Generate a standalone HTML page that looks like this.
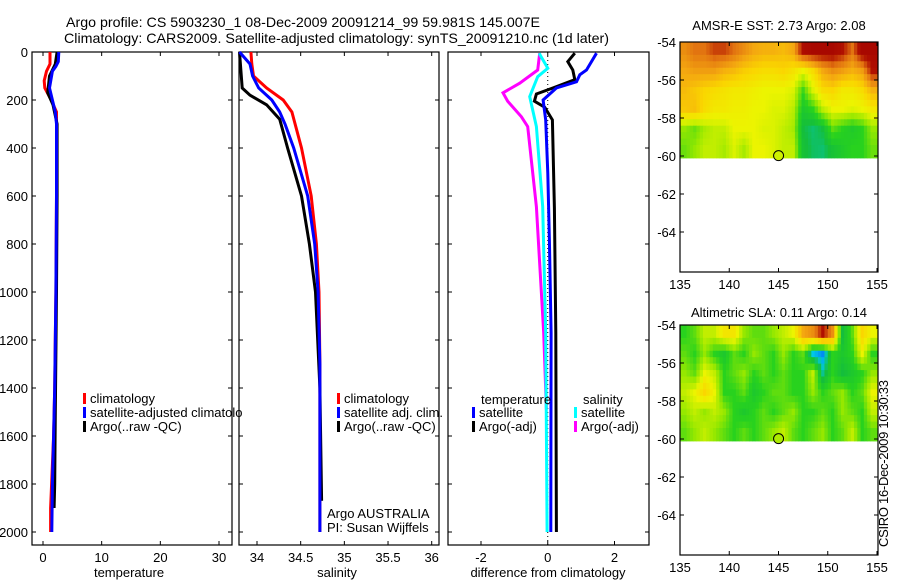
<!DOCTYPE html>
<html><head><meta charset="utf-8"><style>
html,body{margin:0;padding:0;background:#fff;}
svg{display:block;font-family:"Liberation Sans",sans-serif;}
</style></head><body>
<svg id="fig" width="900" height="580" viewBox="0 0 900 580">
<text x="66" y="27" font-size="14" textLength="474" lengthAdjust="spacingAndGlyphs">Argo profile: CS 5903230_1 08-Dec-2009 20091214_99 59.981S 145.007E</text>
<text x="64" y="43" font-size="14" textLength="545" lengthAdjust="spacingAndGlyphs">Climatology: CARS2009. Satellite-adjusted climatology: synTS_20091210.nc (1d later)</text>
<text x="779" y="30" font-size="13" text-anchor="middle">AMSR-E SST: 2.73 Argo: 2.08</text>
<text x="779" y="317" font-size="13" text-anchor="middle">Altimetric SLA: 0.11 Argo: 0.14</text>
<text transform="translate(888,547) rotate(-90)" font-size="13" textLength="167">CSIRO 16-Dec-2009 10:30:33</text>
<text x="129" y="577" font-size="13" text-anchor="middle">temperature</text>
<text x="337" y="577" font-size="13" text-anchor="middle">salinity</text>
<text x="548" y="577" font-size="13" text-anchor="middle">difference from climatology</text>
</svg>
<script>
// ---- data ----
const depthTicks = [0,200,400,600,800,1000,1200,1400,1600,1800,2000];
const tempTicks = [0,10,20,30];
const salTicks = [34,34.5,35,35.5,36];
const diffTicks = [-2,0,2];
const latTicks = [-54,-56,-58,-60,-62,-64];
const lonTicks = [135,140,145,150,155];

const climTempDepth = [0,50,80,120,150,200,250,300,600,1000,1400,1600,1900,2000];
const climTemp =      [1.2,1.2,0.6,0.2,0.3,1.4,2.3,2.3,2.3,2.2,2.0,1.8,1.3,1.3];
const satTempDepth = [0,40,60,80,150,200,250,300,600,1000,1400,1600,1800,2000];
const satTemp =      [2.7,2.6,2.2,1.6,1.1,1.6,2.1,2.3,2.3,2.2,2.0,1.8,1.6,1.5];
const argoTempDepth = [0,50,100,170,220,300,600,1000,1500,1800,1900];
const argoTemp =      [2.4,2.1,1.1,0.8,1.7,2.4,2.4,2.3,2.1,2.0,1.9];

const climSalDepth = [0,50,100,150,200,250,400,600,800,1000,1300,2000];
const climSal =      [33.93,33.94,33.96,34.11,34.30,34.40,34.51,34.62,34.68,34.71,34.72,34.72];
const satSalDepth = [0,50,100,150,200,250,300,400,600,800,1000,1300,2000];
const satSal =      [33.80,33.92,33.95,34.02,34.17,34.26,34.32,34.42,34.58,34.66,34.70,34.72,34.72];
const argoSalDepth = [0,150,180,220,280,400,600,800,1000,1400,1870];
const argoSal =      [33.80,33.83,33.92,34.11,34.26,34.35,34.51,34.60,34.67,34.72,34.74];

const satTdDepth = [5,75,95,124,150,200,283,505,785,1170,2000];
const satTd =      [1.46,1.16,0.96,0.86,0.26,-0.14,-0.06,0.0,0.05,0.1,0.09];
const argoTdDepth = [5,40,75,115,150,175,205,230,283,650,1170,2000];
const argoTd =      [0.81,0.6,0.75,0.81,0.15,-0.34,-0.4,-0.09,0.14,0.2,0.24,0.26];
const satSdDepth = [5,68,103,186,311,645,1170,2000];
const satSd =      [-0.26,0.0,-0.3,-0.54,-0.34,-0.15,-0.06,-0.02];
const argoSdDepth = [5,75,130,170,205,270,311,645,1170,1490];
const argoSd =      [-0.24,-0.3,-0.84,-1.34,-1.2,-0.79,-0.6,-0.34,-0.12,-0.04];

const sstGrid = [
[0.75,0.8,0.8,0.85,0.85,0.8,0.75,0.7,0.68,0.68,0.66,0.7,0.92,0.95,0.95,0.95,0.9,0.8,0.95,0.95],
[0.7,0.72,0.72,0.72,0.68,0.66,0.62,0.6,0.58,0.58,0.6,0.56,0.5,0.58,0.7,0.75,0.72,0.68,0.72,0.9],
[0.66,0.63,0.6,0.58,0.56,0.54,0.54,0.52,0.5,0.5,0.5,0.48,0.32,0.48,0.58,0.6,0.54,0.54,0.58,0.68],
[0.63,0.65,0.58,0.54,0.54,0.52,0.52,0.5,0.5,0.48,0.48,0.44,0.25,0.3,0.44,0.5,0.5,0.48,0.5,0.54],
[0.4,0.36,0.42,0.45,0.45,0.5,0.5,0.5,0.48,0.48,0.45,0.42,0.2,0.17,0.2,0.35,0.3,0.26,0.3,0.4],
[0.36,0.4,0.45,0.45,0.42,0.48,0.42,0.5,0.5,0.48,0.45,0.45,0.22,0.18,0.17,0.22,0.26,0.3,0.3,0.36]];
const slaGrid = [
[0.3,0.35,0.45,0.45,0.55,0.55,0.4,0.35,0.35,0.4,0.45,0.5,0.7,0.75,0.9,0.75,0.2,0.35,0.6,0.5],
[0.35,0.3,0.4,0.3,0.25,0.35,0.3,0.4,0.35,0.3,0.4,0.3,0.35,0.1,0.05,0.3,0.25,0.3,0.5,0.3],
[0.4,0.35,0.5,0.45,0.3,0.35,0.4,0.3,0.35,0.3,0.35,0.3,0.3,0.45,0.15,0.3,0.2,0.25,0.3,0.4],
[0.45,0.5,0.6,0.5,0.3,0.3,0.35,0.25,0.3,0.35,0.35,0.3,0.3,0.4,0.3,0.35,0.4,0.3,0.35,0.5],
[0.4,0.45,0.4,0.45,0.4,0.3,0.25,0.3,0.35,0.3,0.35,0.4,0.3,0.3,0.35,0.3,0.4,0.35,0.3,0.45],
[0.35,0.4,0.45,0.4,0.35,0.3,0.35,0.3,0.35,0.4,0.45,0.35,0.3,0.35,0.4,0.3,0.35,0.45,0.3,0.35]];
const floatLon = 145.007, floatLat = -59.981;

// ---- helpers ----
const svg = document.getElementById('fig');
const NS = 'http://www.w3.org/2000/svg';
function mk(tag, attrs){const e=document.createElementNS(NS,tag);for(const k in attrs)e.setAttribute(k,attrs[k]);svg.appendChild(e);return e;}
function lin(d0,d1,r0,r1){return v=>r0+(v-d0)*(r1-r0)/(d1-d0);}
const yDepth = lin(0,2000,52,532);

function axesBox(x0,x1,y0,y1,name){
  const r=mk('rect',{x:x0,y:y0,width:x1-x0,height:y1-y0,fill:'none',stroke:'#000','stroke-width':1.2});
  
  
}
function tick(x1,y1,x2,y2){const t=mk('line',{x1,y1,x2,y2,stroke:'#000','stroke-width':1});
  
  }
function label(x,y,txt,anchor){const t=mk('text',{x,y,'font-size':13,'text-anchor':anchor});t.textContent=txt;
  
  }

function profilePanel(x0,x1,xs,xt,showDepthLabels,nm){
  const y0=52,y1=545;
  axesBox(x0,x1,y0,y1,nm+'-axes');
  depthTicks.forEach(d=>{const y=yDepth(d);tick(x0,y,x0+4,y);tick(x1,y,x1-4,y);
    if(showDepthLabels) label(x0-4,y+5,String(d),'end');});
  xt.forEach(v=>{const x=xs(v);tick(x,y0,x,y0+4);tick(x,y1,x,y1-4);label(x,562,String(v),'middle');});
}
function series(xs,vals,depths,color,name,w){
  const pts=vals.map((v,i)=>xs(v).toFixed(1)+','+yDepth(depths[i]).toFixed(1)).join(' ');
  const p=mk('polyline',{points:pts,fill:'none',stroke:color,'stroke-width':w||3,'stroke-linejoin':'miter'});
  
  
}
function legend(x,y,color,txt,name){
  const r=mk('rect',{x:x,y:y-10,width:3,height:11,fill:color});
  
  
  const t=mk('text',{x:x+7,y:y,'font-size':13});t.textContent=txt;
  
  
}

// Panel 1: temperature
const xT = lin(0,30,43,219);
profilePanel(32,232,xT,tempTicks,true,'temperature-panel');
series(xT,climTemp,climTempDepth,'#ff0000','climatology-temp-line');
series(xT,argoTemp,argoTempDepth,'#000000','argo-temp-line');
series(xT,satTemp,satTempDepth,'#0000ff','satellite-temp-line');
legend(83,403,'#ff0000','climatology','legend-climatology');
legend(83,417,'#0000ff','satellite-adjusted climatolo','legend-satellite-adjusted');
legend(83,431,'#000000','Argo(..raw -QC)','legend-argo');

// Panel 2: salinity
const xS = lin(34,36,257,431.7);
profilePanel(239,439,xS,salTicks,false,'salinity-panel');
series(xS,climSal,climSalDepth,'#ff0000','climatology-sal-line');
series(xS,argoSal,argoSalDepth,'#000000','argo-sal-line');
series(xS,satSal,satSalDepth,'#0000ff','satellite-sal-line');
legend(337,403,'#ff0000','climatology','legend-sal-climatology');
legend(337,417,'#0000ff','satellite adj. clim.','legend-sal-satellite');
legend(337,431,'#000000','Argo(..raw -QC)','legend-sal-argo');
(function(){const a=mk('text',{x:327,y:518,'font-size':13});a.textContent='Argo AUSTRALIA';


const b=mk('text',{x:327,y:532,'font-size':13});b.textContent='PI: Susan Wijffels';

})();

// Panel 3: difference
const xD = lin(-2,2,481,614.5);
profilePanel(448,649,xD,diffTicks,false,'difference-panel');
(function(){const z=mk('line',{x1:xD(0),y1:52,x2:xD(0),y2:545,stroke:'#000','stroke-width':1,'stroke-dasharray':'1,3'});

})();
series(xD,argoSd,argoSdDepth,'#ff00ff','argo-sal-diff-line');
series(xD,satSd,satSdDepth,'#00ffff','satellite-sal-diff-line');
series(xD,argoTd,argoTdDepth,'#000000','argo-temp-diff-line');
series(xD,satTd,satTdDepth,'#0000ff','satellite-temp-diff-line');
(function(){const a=mk('text',{x:481,y:404,'font-size':13});a.textContent='temperature';


const b=mk('text',{x:583,y:404,'font-size':13});b.textContent='salinity';

})();
legend(472,417,'#0000ff','satellite','legend-temp-satellite');
legend(472,431,'#000000','Argo(-adj)','legend-temp-argo');
legend(574,417,'#00ffff','satellite','legend-sal-satellite-diff');
legend(574,431,'#ff00ff','Argo(-adj)','legend-sal-argo-diff');

// colormap
const cstops=[[0,[0,80,255]],[0.1,[0,200,230]],[0.2,[20,190,60]],[0.3,[40,210,30]],[0.4,[150,232,0]],[0.5,[236,244,0]],[0.6,[250,214,0]],[0.7,[244,168,16]],[0.8,[226,116,16]],[0.9,[176,16,0]],[1,[160,0,0]]];
function cmap(v){for(let i=1;i<cstops.length;i++){if(v<=cstops[i][0]){const a=cstops[i-1],b=cstops[i],t=(v-a[0])/(b[0]-a[0]);
 return 'rgb('+a[1].map((c,k)=>Math.round(c+(b[1][k]-c)*t)).join(',')+')';}}return 'rgb(160,0,0)';}
function sample(grid,fr,fc){
  const R=grid.length-1,C=grid[0].length-1;
  fr=Math.max(0,Math.min(R,fr));fc=Math.max(0,Math.min(C,fc));
  const r0=Math.floor(fr),c0=Math.floor(fc),r1=Math.min(R,r0+1),c1=Math.min(C,c0+1),tr=fr-r0,tc=fc-c0;
  return (grid[r0][c0]*(1-tc)+grid[r0][c1]*tc)*(1-tr)+(grid[r1][c0]*(1-tc)+grid[r1][c1]*tc)*tr;
}

function mapPanel(top,grid,name){
  const x0=680,x1=878,y1=top+230;
  const xL=lin(135,155,680,877), yL=lin(-54,-60,top,top+114);
  const rows=grid.length, cols=grid[0].length, sub=3;
  const nR=rows*sub, nC=cols*sub;
  for(let r=0;r<nR;r++)for(let c=0;c<nC;c++){
    const v=sample(grid,(r+0.5)/sub-0.5,(c+0.5)/sub-0.5);
    const lon0=135+c*(20/nC), lat0=-54-r*(6.1/nR);
    const cell=mk('rect',{x:xL(lon0),y:yL(lat0),width:xL(lon0+20/nC)-xL(lon0)+0.5,height:yL(lat0-6.1/nR)-yL(lat0)+0.5,fill:cmap(v)});
    
    
  }
  axesBox(x0,x1,top,y1,name+'-axes');
  latTicks.forEach(l=>{const y=yL(l);tick(x0,y,x0+4,y);tick(x1,y,x1-4,y);label(x0-4,y+5,String(l),'end');});
  lonTicks.forEach(l=>{const x=xL(l);tick(x,top,x,top+4);tick(x,y1,x,y1-4);label(x,y1+17,String(l),'middle');});
  const sv=sample(grid,rows-1,(floatLon-135)/(20/cols)-0.5);
  const m=mk('circle',{cx:xL(floatLon),cy:yL(floatLat),r:5,fill:cmap(sv),stroke:'#000','stroke-width':1});
  
  
}
mapPanel(42,sstGrid,'sst-map');
mapPanel(325,slaGrid,'sla-map');
</script>
</body></html>
